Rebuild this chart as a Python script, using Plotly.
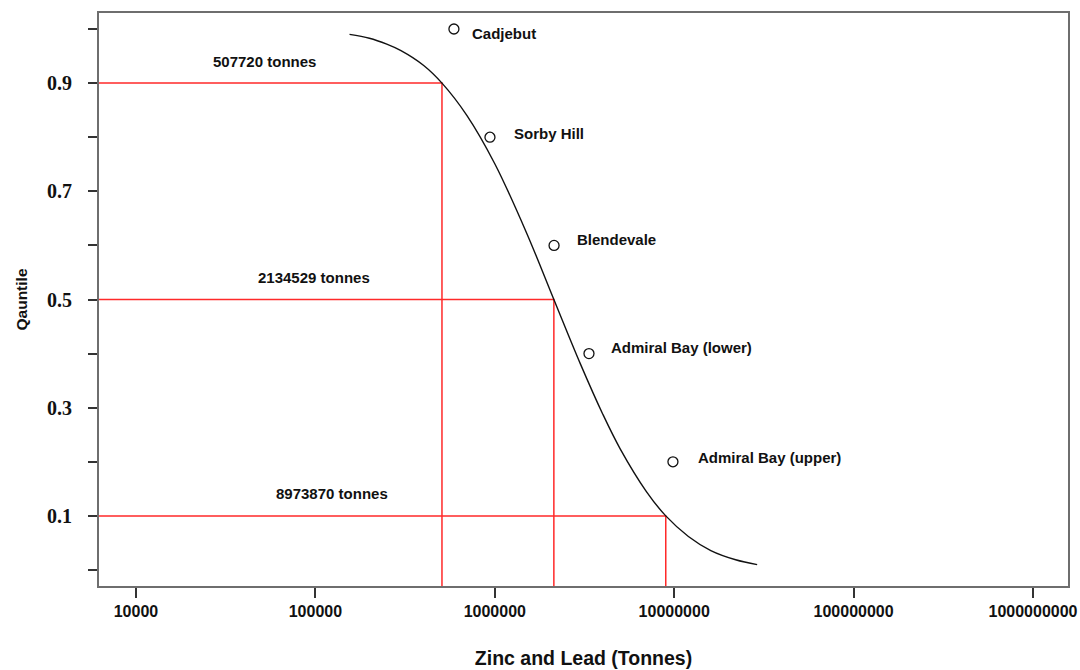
import math
import plotly.graph_objects as go

# Fitted exceedance curve (tonnes vs quantile)
curve_tonnes = [155000, 200000, 250000, 300000, 400000, 507720, 700000, 1000000,
                1500000, 2134529, 3000000, 4000000, 5000000, 7000000, 8973870,
                12000000, 16000000, 22000000, 29000000]
curve_quantile = [0.990, 0.983, 0.972, 0.960, 0.933, 0.900, 0.840, 0.751,
                  0.624, 0.500, 0.381, 0.288, 0.224, 0.145, 0.100,
                  0.062, 0.036, 0.019, 0.010]

# Known deposits
deposit_names = ["Cadjebut", "Sorby Hill", "Blendevale",
                 "Admiral Bay (lower)", "Admiral Bay (upper)"]
deposit_tonnes = [592000, 940000, 2140000, 3350000, 9840000]
deposit_quantile = [1.0, 0.8, 0.6, 0.4, 0.2]

# Reference quantiles and their tonnages
ref_quantile = [0.9, 0.5, 0.1]
ref_tonnes = [507720, 2134529, 8973870]
ref_labels = ["507720 tonnes", "2134529 tonnes", "8973870 tonnes"]

x_tickvals = [1e4, 1e5, 1e6, 1e7, 1e8, 1e9]
x_ticktext = ["10000", "100000", "1000000", "10000000", "100000000", "1000000000"]
y_tickvals = [0.0, 0.1, 0.2, 0.3, 0.4, 0.5, 0.6, 0.7, 0.8, 0.9, 1.0]
y_ticktext = ["", "0.1", "", "0.3", "", "0.5", "", "0.7", "", "0.9", ""]

XMIN, XMAX = 3.794, 9.195
YMIN, YMAX = -0.0296, 1.0296

FONT = "Liberation Sans, Arial, sans-serif"
SERIF = "Liberation Serif, Times New Roman, serif"
RED = "#ff2a2a"

# Pixel offsets of each deposit label from its marker
label_dx = [16, 22, 21, 20, 23]
label_dy = [-4, 4, 6, 6, 4]

fig = go.Figure()

# Red guide lines from the axes to the curve
for q, t in zip(ref_quantile, ref_tonnes):
    fig.add_trace(go.Scatter(
        x=[10 ** XMIN, t, t], y=[q, q, YMIN],
        mode="lines", line=dict(color=RED, width=1.5),
        hoverinfo="skip", showlegend=False, cliponaxis=False))

fig.add_trace(go.Scatter(
    x=curve_tonnes, y=curve_quantile, mode="lines",
    line=dict(color="#111111", width=1.4, shape="spline", smoothing=1.0),
    showlegend=False))

fig.add_trace(go.Scatter(
    x=deposit_tonnes, y=deposit_quantile, mode="markers",
    marker=dict(symbol="circle-open", size=10, color="#111111",
                line=dict(width=1.3, color="#111111")),
    showlegend=False))

for name, t, q, dx, dy in zip(deposit_names, deposit_tonnes, deposit_quantile,
                              label_dx, label_dy):
    fig.add_annotation(
        x=math.log10(t), y=q, xref="x", yref="y", text="<b>" + name + "</b>",
        showarrow=False, xanchor="left", yanchor="middle", xshift=dx, yshift=dy,
        font=dict(family=FONT, size=15, color="#111111"))

label_paper_x = [0.171, 0.222, 0.240]
for q, txt, px in zip(ref_quantile, ref_labels, label_paper_x):
    fig.add_annotation(
        x=px, y=q, xref="paper", yref="y", text="<b>" + txt + "</b>",
        showarrow=False, xanchor="center", yanchor="middle", yshift=22,
        font=dict(family=FONT, size=15, color="#111111"))

fig.update_xaxes(
    type="log", range=[XMIN, XMAX], automargin=False,
    tickvals=x_tickvals, ticktext=x_ticktext,
    ticks="outside", ticklen=10, tickwidth=1.5, tickcolor="#333333",
    showline=True, linecolor="#6e6e6e", linewidth=2, mirror=True,
    showgrid=False, zeroline=False,
    tickfont=dict(family=FONT, size=16, color="#111111", weight=700),
    title=dict(text="<b>Zinc and Lead (Tonnes)</b>", standoff=32,
               font=dict(family=FONT, size=19.5, color="#111111")))

fig.update_yaxes(
    range=[YMIN, YMAX], automargin=False,
    tickvals=y_tickvals, ticktext=y_ticktext,
    ticks="outside", ticklen=9, tickwidth=1.5, tickcolor="#333333",
    ticklabelstandoff=12,
    showline=True, linecolor="#6e6e6e", linewidth=2, mirror=True,
    showgrid=False, zeroline=False,
    tickfont=dict(family=SERIF, size=20, color="#111111", weight=700),
    title=dict(text="<b>Qauntile</b>", standoff=16,
               font=dict(family=FONT, size=15.5, color="#111111")))

fig.update_layout(
    width=1080, height=670,
    margin=dict(l=99, r=12, t=13, b=84),
    paper_bgcolor="white", plot_bgcolor="white",
    showlegend=False)

fig.write_html("out.html")
